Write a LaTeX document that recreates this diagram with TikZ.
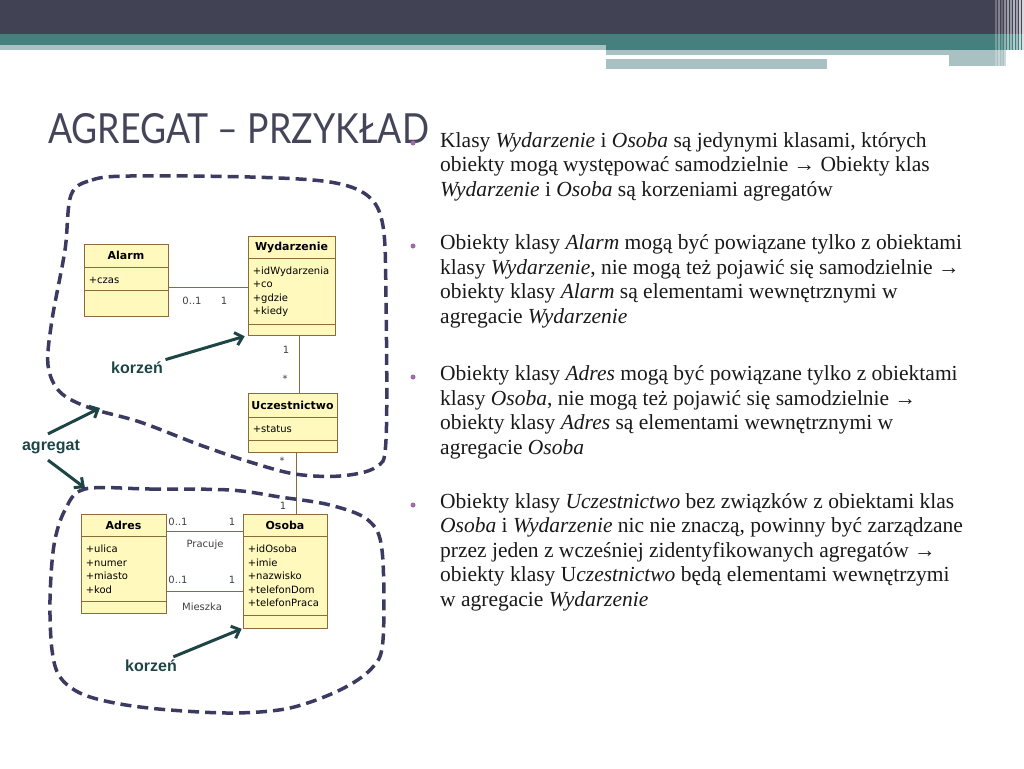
\documentclass[tikz,border=0pt]{standalone}
\usepackage{fontspec}
\setmainfont{Liberation Serif}
\newfontfamily\umlfont{DejaVu Sans}
\newfontfamily\tytulfont[FakeStretch=0.86]{Lato}
\newfontfamily\etykfont{Liberation Sans}
\usetikzlibrary{arrows.meta,positioning}

\definecolor{ciemny}{HTML}{424255}
\definecolor{morski}{HTML}{45807F}
\definecolor{jasny}{HTML}{A9C1C3}
\definecolor{tytul}{HTML}{45455A}
\definecolor{granat}{HTML}{3B3A60}
\definecolor{strzalka}{HTML}{1E4546}
\definecolor{klasa}{HTML}{FFF9BE}
\definecolor{ramka}{HTML}{8C6A3C}
\definecolor{punkt}{HTML}{A06AA8}

\tikzset{
  klasabox/.style={draw=ramka, fill=klasa, line width=0.8pt, inner sep=0pt},
  podzial/.style={draw=ramka, line width=0.8pt},
  naglowek/.style={font=\umlfont\bfseries\fontsize{11}{12}\selectfont, inner sep=0pt},
  atrybuty/.style={font=\umlfont\fontsize{10}{13.5}\selectfont, align=left, anchor=base west, inner sep=0pt},
  krotnosc/.style={font=\umlfont\fontsize{10}{12}\selectfont, text=black!75, inner sep=0pt},
  opis/.style={font=\etykfont\bfseries\fontsize{16}{18}\selectfont, text=strzalka, inner sep=0pt},
  wskaz/.style={strzalka, line width=3pt, -{Straight Barb[length=7pt,width=13pt]}},
  granica/.style={granat, line width=3.5pt, dash pattern=on 11pt off 6pt},
  akapit/.style={font=\fontsize{21.5}{24.5}\selectfont, align=left, anchor=base west, inner sep=0pt, text=black!90},
}

\begin{document}
\begin{tikzpicture}[x=1pt, y=-1pt]
    \useasboundingbox (0,0) rectangle (1024,768);

    % pasy u gory
    \fill[ciemny] (0,0) rectangle (1024,34);
    \fill[morski] (0,34) rectangle (1024,45);
    \fill[jasny] (0,45) rectangle (606,50);
    \fill[morski] (606,45) rectangle (1024,50);
    \fill[jasny] (606,50) rectangle (1006,55);
    \fill[jasny] (949,55) rectangle (1006,66);
    \fill[jasny] (606,59) rectangle (827,69);
    \foreach \x/\o in {995/0.25,998/0.35,1001/0.2,1004/0.4,1007/0.5,1010/0.45,1013/0.6,1016/0.5,1019/0.7,1022/0.8}
        \fill[white, opacity=\o] (\x,0) rectangle ++(2,68);

    % tytul
    \node[anchor=base west, inner sep=0pt, text=tytul, font=\tytulfont\fontsize{41.5}{42}\selectfont] (tytul) at (48,143) {AGREGAT – PRZYKŁAD};

    % klasy (base = ostatnia linia)
    \node[klasabox, minimum width=84pt, minimum height=72pt] (alarm) at (126,280) {};
    \draw[podzial] (alarm.north west) ++(0,24) -- ++(84,0);
    \draw[podzial] (alarm.north west) ++(0,47) -- ++(84,0);
    \node[naglowek] (alarm-n) at ([yshift=-12pt]alarm.north) {Alarm};
    \node[atrybuty] (alarm-a) at ([xshift=5pt, yshift=-40pt]alarm.north west) {+czas};

    \node[klasabox, minimum width=87pt, minimum height=99pt] (wyd) at (291.5,285.5) {};
    \draw[podzial] (wyd.north west) ++(0,23) -- ++(87,0);
    \draw[podzial] (wyd.north west) ++(0,89) -- ++(87,0);
    \node[naglowek] (wyd-n) at ([yshift=-11.5pt]wyd.north) {Wydarzenie};
    \node[atrybuty] (wyd-a) at ([xshift=5pt, yshift=-79pt]wyd.north west) {+idWydarzenia\\+co\\+gdzie\\+kiedy};

    \node[klasabox, minimum width=89pt, minimum height=59pt] (ucz) at (292.5,422.5) {};
    \draw[podzial] (ucz.north west) ++(0,25) -- ++(89,0);
    \draw[podzial] (ucz.north west) ++(0,48) -- ++(89,0);
    \node[naglowek] (ucz-n) at ([yshift=-12.5pt]ucz.north) {Uczestnictwo};
    \node[atrybuty] (ucz-a) at ([xshift=5pt, yshift=-40pt]ucz.north west) {+status};

    \node[klasabox, minimum width=85pt, minimum height=99pt] (adres) at (123.5,563.5) {};
    \draw[podzial] (adres.north west) ++(0,23) -- ++(85,0);
    \draw[podzial] (adres.north west) ++(0,88) -- ++(85,0);
    \node[naglowek] (adres-n) at ([yshift=-11.5pt]adres.north) {Adres};
    \node[atrybuty] (adres-a) at ([xshift=5pt, yshift=-79.5pt]adres.north west) {+ulica\\+numer\\+miasto\\+kod};

    \node[klasabox, minimum width=84pt, minimum height=114pt] (osoba) at (285,571) {};
    \draw[podzial] (osoba.north west) ++(0,23) -- ++(84,0);
    \draw[podzial] (osoba.north west) ++(0,102) -- ++(84,0);
    \node[naglowek] (osoba-n) at ([yshift=-11.5pt]osoba.north) {Osoba};
    \node[atrybuty] (osoba-a) at ([xshift=5pt, yshift=-93pt]osoba.north west) {+idOsoba\\+imie\\+nazwisko\\+telefonDom\\+telefonPraca};

    % asocjacje
    \draw[ramka, line width=0.8pt] ([yshift=-7pt]alarm.east) -- ([yshift=-7pt]alarm.east -| wyd.west);
    \draw[ramka, line width=0.8pt] ([xshift=7.5pt]wyd.south) -- ([xshift=7.5pt]wyd.south |- ucz.north);
    \draw[ramka, line width=0.8pt] ([xshift=3.5pt]ucz.south) -- ([xshift=3.5pt]ucz.south |- osoba.north);
    \draw[ramka, line width=0.8pt] ([yshift=32.5pt]adres.east) -- ([yshift=32.5pt]adres.east -| osoba.west);
    \draw[ramka, line width=0.8pt] ([yshift=-27.5pt]adres.east) -- ([yshift=-27.5pt]adres.east -| osoba.west);

    \node[krotnosc] (k1) at (192,301) {0..1};
    \node[krotnosc] (k2) at (224,301) {1};
    \node[krotnosc] (k3) at (286,350) {1};
    \node[krotnosc] (k4) at (285,379) {*};
    \node[krotnosc] (k5) at (282,461) {*};
    \node[krotnosc] (k6) at (283,506) {1};
    \node[krotnosc] (k7) at (178,522) {0..1};
    \node[krotnosc] (k8) at (232,522) {1};
    \node[krotnosc] (k9) at (178,580) {0..1};
    \node[krotnosc] (k10) at (232,580) {1};
    \node[krotnosc] (pracuje) at (205,545) {Pracuje};
    \node[krotnosc] (mieszka) at (202,607) {Mieszka};

    % agregaty
    \draw[granica] plot[smooth cycle, tension=0.55] coordinates {
        (71,195) (92,180) (130,176) (250,177) (330,182) (368,196) (383,226)
        (386,300) (386,440) (376,467) (340,476) (295,474) (250,462) (200,445)
        (140,422) (90,408) (60,392) (48,365) (52,320) (65,250)};
    \draw[granica] plot[smooth cycle, tension=0.55] coordinates {
        (85,489) (150,489) (230,490) (280,497) (330,505) (368,520) (382,550)
        (383,640) (372,668) (340,690) (290,708) (235,713) (170,710) (120,704)
        (82,694) (60,677) (52,650) (50,600) (54,545) (65,510)};

    % opisy i strzalki
    \node[opis] (korzen1) at (137,368) {korzeń};
    \node[opis] (korzen2) at (151,666) {korzeń};
    \node[opis] (agregat) at (51,447) {agregat};
    \coordinate (blob1) at (100,408);
    \coordinate (blob2) at (85,488);
    \draw[wskaz, shorten <=8pt, shorten >=3pt] (korzen1) -- (wyd.south west);
    \draw[wskaz, shorten <=8pt, shorten >=1pt] (korzen2) -- (osoba.south west);
    \draw[wskaz] ([xshift=-3pt, yshift=6pt]agregat.north) -- (blob1);
    \draw[wskaz] ([xshift=-3pt, yshift=-6pt]agregat.south) -- (blob2);

    % punkty
    \foreach \y in {143,246,377,505}
        \fill[punkt] (413,\y) circle (2.5);

    \node[akapit] (p1) at (440,196) {Klasy \textit{Wydarzenie} i \textit{Osoba} są jedynymi klasami, których\\
        obiekty mogą występować samodzielnie → Obiekty klas\\
        \textit{Wydarzenie} i \textit{Osoba} są korzeniami agregatów};
    \node[akapit] (p2) at (440,323) {Obiekty klasy \textit{Alarm} mogą być powiązane tylko z obiektami\\
        klasy \textit{Wydarzenie}, nie mogą też pojawić się samodzielnie →\\
        obiekty klasy \textit{Alarm} są elementami wewnętrznymi w\\
        agregacie \textit{Wydarzenie}};
    \node[akapit] (p3) at (440,454) {Obiekty klasy \textit{Adres} mogą być powiązane tylko z obiektami\\
        klasy \textit{Osoba}, nie mogą też pojawić się samodzielnie →\\
        obiekty klasy \textit{Adres} są elementami wewnętrznymi w\\
        agregacie \textit{Osoba}};
    \node[akapit] (p4) at (440,606) {Obiekty klasy \textit{Uczestnictwo} bez związków z obiektami klas\\
        \textit{Osoba} i \textit{Wydarzenie} nic nie znaczą, powinny być zarządzane\\
        przez jeden z wcześniej zidentyfikowanych agregatów →\\
        obiekty klasy U\textit{czestnictwo} będą elementami wewnętrzymi\\
        w agregacie \textit{Wydarzenie}};
\end{tikzpicture}
\end{document}
